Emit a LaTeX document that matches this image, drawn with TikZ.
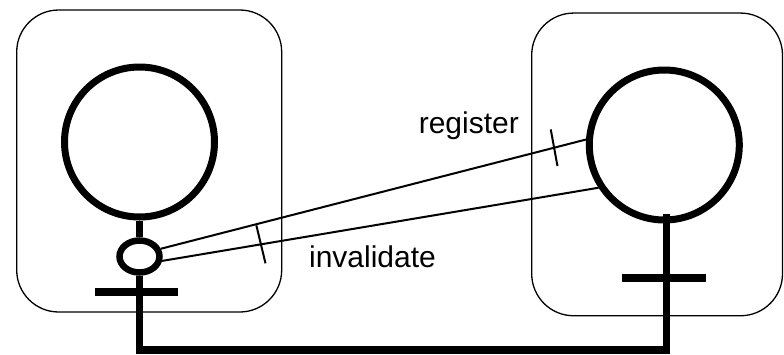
\documentclass[tikz,border=0pt]{standalone}
\usepackage{fontspec}
\setmainfont{Liberation Sans}
\usetikzlibrary{calc,shapes.geometric}

\begin{document}
\begin{tikzpicture}[x=1pt,y=-1pt,
  frame/.style={draw, line width=1.3pt, rounded corners=42pt, inner sep=0pt},
  ring/.style={circle, draw, line width=7pt, minimum size=150pt, inner sep=0pt},
  knob/.style={ellipse, draw, line width=6.5pt, minimum width=40pt, minimum height=32pt, inner sep=0pt},
  bar/.style={line width=7.5pt, line cap=butt, line join=miter},
  crossbar/.style={line width=8pt, line cap=butt},
  wire/.style={line width=2pt},
  label/.style={anchor=base, inner sep=0pt, font=\fontsize{30}{36}\selectfont}]

\useasboundingbox (0,0) rectangle (784,354);

% the two enclosing frames
\node[frame, minimum width=265pt, minimum height=302pt] (lbox) at (149.2,161) {};
\node[frame, minimum width=250.8pt, minimum height=302.7pt] (rbox) at (657.1,164.4) {};

% left symbol: head, knob and crossbar
\node[ring] (lhead) at (139.5,142) {};
\node[knob] (lknob) at (139.5,256.5) {};
\draw[bar] (lhead.south) -- (lknob.north);

% right symbol: head and crossbar
\node[ring] (rhead) at (664.3,145) {};

% common bottom link between the two stems
\coordinate (lfoot) at (139.5,350);
\coordinate (rfoot) at (666.5,350);
\coordinate (rtop) at (666.5,214);
\draw[bar] (lknob.south) -- (lfoot) -- (rfoot) -- (rtop);

% crossbars
\coordinate (lbarL) at (95,292);
\coordinate (lbarR) at (178,292);
\coordinate (rbarL) at (621.7,278.3);
\coordinate (rbarR) at (706,278.3);
\draw[crossbar] (lbarL) -- (lbarR);
\draw[crossbar] (rbarL) -- (rbarR);

% connectors between the knob and the right head
\draw[wire] (lknob.20) -- (rhead.176) coordinate[pos=0.925] (regtick);
\draw[wire] (lknob.-11) -- (rhead.213) coordinate[pos=0.2264] (invtick);

% tick marks on the connectors
\draw[wire] ($(regtick)!18.6pt!86:(rhead.176)$) -- ($(regtick)!18.6pt!266:(rhead.176)$);
\draw[wire] ($(invtick)!19.5pt!94:(rhead.213)$) -- ($(invtick)!19.5pt!274:(rhead.213)$);

% labels
\node[label] (reglabel) at (468.8,133.3) {register};
\node[label] (invlabel) at (372.5,267.3) {invalidate};
\end{tikzpicture}
\end{document}
